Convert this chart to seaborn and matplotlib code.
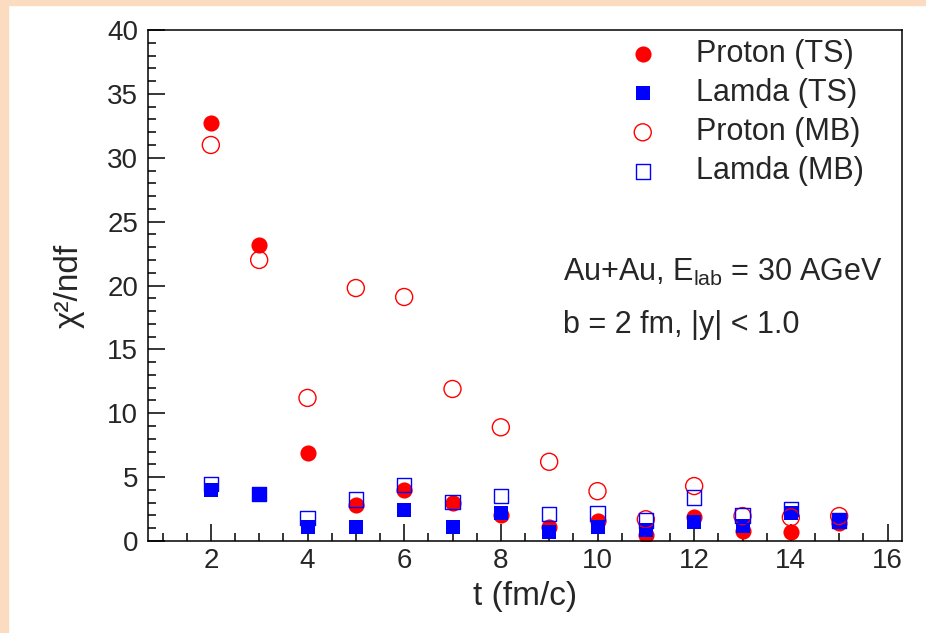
import matplotlib
matplotlib.use("Agg")
import matplotlib.pyplot as plt
import pandas as pd
import seaborn as sns
from matplotlib.patches import Rectangle
from matplotlib.ticker import MultipleLocator

sns.set_style("ticks")
plt.rcParams['font.family'] = ['Liberation Sans', 'DejaVu Sans']
plt.rcParams['mathtext.fontset'] = 'custom'
plt.rcParams['mathtext.rm'] = 'Liberation Sans'
plt.rcParams['mathtext.it'] = 'Liberation Sans:italic'

t = [2, 3, 4, 5, 6, 7, 8, 9, 10, 11, 12, 13, 14, 15]
proton_ts = [32.7, 23.2, 6.9, 2.8, 4.0, 3.0, 2.0, 1.1, 1.6, 0.45, 1.85, 0.8, 0.7, 1.4]
lamda_ts = [4.0, 3.7, 1.1, 1.1, 2.4, 1.1, 2.2, 0.7, 1.1, 0.85, 1.45, 1.2, 2.2, 1.6]
proton_mb = [31.0, 22.0, 11.2, 19.8, 19.1, 11.9, 8.9, 6.2, 3.9, 1.7, 4.3, 1.95, 1.85, 1.95]
lamda_mb = [4.45, 3.7, 1.8, 3.25, 4.4, 3.05, 3.5, 2.1, 2.15, 1.6, 3.4, 2.0, 2.5, 1.6]

df = pd.DataFrame({'t': t, 'Proton (TS)': proton_ts, 'Lamda (TS)': lamda_ts,
                   'Proton (MB)': proton_mb, 'Lamda (MB)': lamda_mb})

fig = plt.figure(figsize=(9.26, 6.33), dpi=100)
ax = fig.add_axes([148 / 926, 1 - 541 / 633, (902 - 148) / 926, (541 - 30) / 633])

sns.scatterplot(data=df, x='t', y='Proton (TS)', ax=ax, marker='o', s=135,
                color='red', linewidth=0, label='Proton (TS)')
sns.scatterplot(data=df, x='t', y='Lamda (TS)', ax=ax, marker='s', s=110,
                color='blue', linewidth=0, label='Lamda (TS)')
sns.scatterplot(data=df, x='t', y='Proton (MB)', ax=ax, marker='o', s=150,
                facecolor='none', edgecolor='red', linewidth=1.0, label='Proton (MB)')
sns.scatterplot(data=df, x='t', y='Lamda (MB)', ax=ax, marker='s', s=105,
                facecolor='none', edgecolor='blue', linewidth=1.0, label='Lamda (MB)')

ax.set_xlim(0.7, 16.3)
ax.set_ylim(0, 40)
ax.xaxis.set_major_locator(MultipleLocator(2))
ax.xaxis.set_minor_locator(MultipleLocator(0.5))
ax.yaxis.set_major_locator(MultipleLocator(5))
ax.yaxis.set_minor_locator(MultipleLocator(1))
ax.tick_params(which='both', direction='in', labelsize=20, width=1.1, color='black')
ax.tick_params(which='major', length=12)
ax.tick_params(which='minor', length=6)
ax.tick_params(axis='y', pad=7)
ax.tick_params(axis='x', pad=5)
for sp in ax.spines.values():
    sp.set_linewidth(1.1)
    sp.set_color('black')

ax.set_xlabel('t (fm/c)', fontsize=24, labelpad=5)
ax.set_ylabel('χ²/ndf', fontsize=24, labelpad=16)

ax.text(563 / 926, 1 - 272 / 633, r'Au+Au, E$_{\rm lab}$ = 30 AGeV', transform=fig.transFigure,
        fontsize=22, va='center', ha='left')
ax.text(563 / 926, 1 - 325 / 633, 'b = 2 fm, |y| < 1.0', transform=fig.transFigure,
        fontsize=22, va='center', ha='left')

ax.legend(loc='upper left', bbox_to_anchor=(629 / 926, 1 - 39 / 633), bbox_transform=fig.transFigure,
          frameon=False, fontsize=22, handlelength=0.9, handletextpad=1.3, labelspacing=0.3,
          borderpad=0, borderaxespad=0, markerscale=1.0)

peach = '#fcdcc0'
fig.patches.append(Rectangle((0, 0), 8 / 926, 1, transform=fig.transFigure, color=peach, zorder=-1))
fig.patches.append(Rectangle((0, 1 - 5 / 633), 1, 5 / 633, transform=fig.transFigure, color=peach, zorder=-1))

fig.savefig('out.png', dpi=100, facecolor='white')
